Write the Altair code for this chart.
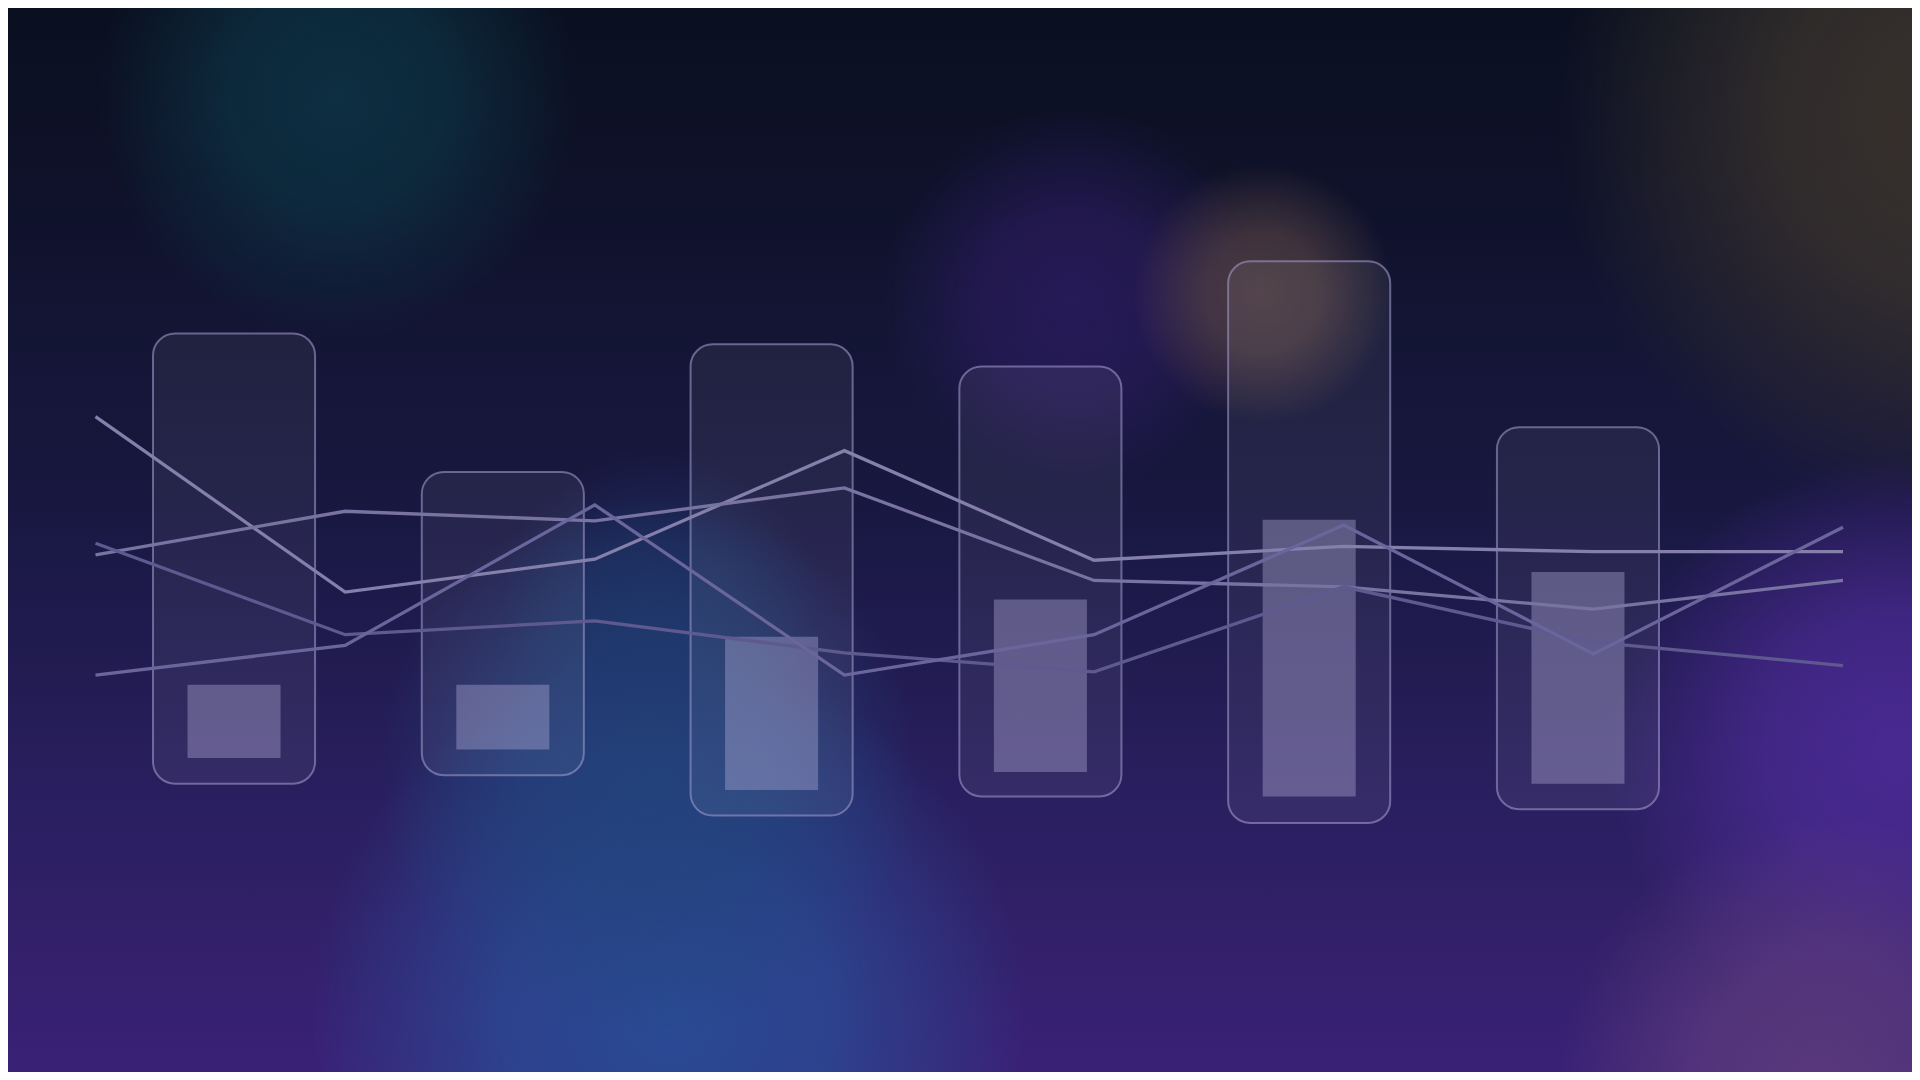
import altair as alt
import pandas as pd

W, H = 1904, 1064

# ---------------- data ----------------
groups = ["G1", "G2", "G3", "G4", "G5", "G6"]
range_high = [69.4, 56.4, 68.4, 66.3, 76.2, 60.6]
range_low = [27.1, 27.9, 24.1, 25.9, 23.4, 24.7]
value_high = [36.4, 36.4, 40.9, 44.4, 51.9, 47.0]
value_low = [29.5, 30.3, 26.5, 28.2, 25.9, 27.1]

steps = [0, 1, 2, 3, 4, 5, 6, 7]
series_names = ["A", "B", "C", "D"]
series_a = [61.6, 45.1, 48.2, 58.4, 48.1, 49.4, 48.9, 48.9]
series_b = [48.6, 52.7, 51.8, 54.9, 46.2, 45.6, 43.5, 46.2]
series_c = [49.7, 41.1, 42.4, 39.4, 37.6, 45.6, 40.4, 38.2]
series_d = [37.3, 40.1, 53.3, 37.3, 41.1, 51.4, 39.3, 51.2]

# ---------------- styles ----------------
line_colors = ["#847fab", "#7873a1", "#5e5a90", "#6a669c"]
base_stops = [
    (0.0, "#0a1020"), (0.15, "#0e1128"), (0.3, "#131534"), (0.45, "#18173f"),
    (0.55, "#1d1a4a"), (0.75, "#2a1f60"), (0.9, "#34206c"), (1.0, "#3a2176"),
]
# decorative glows: centre x, centre y, radius (chart px), rgb, alpha
glows = [
    (330, 90, 240, "13,50,68", 0.9),
    (1950, 110, 400, "58,51,45", 0.95),
    (1065, 290, 190, "52,30,112", 0.6),
    (1255, 285, 130, "104,78,72", 0.65),
    (660, 1010, 360, "42,74,148", 1.0),
    (640, 760, 270, "34,68,124", 0.85),
    (650, 600, 160, "30,60,110", 0.5),
    (1890, 740, 290, "76,42,150", 0.9),
    (1810, 1070, 260, "96,62,126", 0.8),
]

one = pd.DataFrame({"k": [0]})

base = alt.Chart(one).mark_rect(
    clip=True,
    fill={"gradient": "linear", "x1": 0, "y1": 0, "x2": 0, "y2": 1,
          "stops": [{"offset": o, "color": c} for o, c in base_stops]}
).encode(x=alt.value(0), x2=alt.value(W), y=alt.value(0), y2=alt.value(H))

layers = [base]
for cx, cy, r, rgb, a in glows:
    g = {"gradient": "radial", "x1": 0.5, "y1": 0.5, "r1": 0,
         "x2": 0.5, "y2": 0.5, "r2": 0.5,
         "stops": [
             {"offset": 0, "color": f"rgba({rgb},{a})"},
             {"offset": 0.45, "color": f"rgba({rgb},{a*0.8:.3f})"},
             {"offset": 0.8, "color": f"rgba({rgb},{a*0.3:.3f})"},
             {"offset": 1, "color": f"rgba({rgb},0)"},
         ]}
    layers.append(alt.Chart(one).mark_rect(fill=g, clip=True).encode(
        x=alt.value(cx - r), x2=alt.value(cx + r),
        y=alt.value(cy - r), y2=alt.value(cy + r)))

bars_df = pd.DataFrame({"group": groups, "rhi": range_high, "rlo": range_low,
                        "vhi": value_high, "vlo": value_low})
yscale = alt.Scale(domain=[0, 100])
xband = alt.X("group:N", sort=groups, axis=None,
              scale=alt.Scale(range=[145, 1651], paddingInner=0.397, paddingOuter=0))

boxes = alt.Chart(bars_df).mark_bar(
    cornerRadius=22, fill="#ffffff", fillOpacity=0.06,
    stroke="#9c97c8", strokeOpacity=0.6, strokeWidth=2
).encode(x=xband, y=alt.Y("rhi:Q", scale=yscale, axis=None), y2="rlo:Q")

inner = alt.Chart(bars_df).mark_bar(
    fill="#bdb7e0", fillOpacity=0.36, width={"band": 0.574}
).encode(x=xband, y=alt.Y("vhi:Q", scale=yscale, axis=None), y2="vlo:Q")

rows = []
for name, vals in zip(series_names, [series_a, series_b, series_c, series_d]):
    for s, v in zip(steps, vals):
        rows.append({"series": name, "step": s, "v": v})
lines_df = pd.DataFrame(rows)

lines = alt.Chart(lines_df).mark_line(strokeWidth=3.3).encode(
    x=alt.X("step:Q", axis=None, scale=alt.Scale(domain=[0, 7], range=[87.5, 1835])),
    y=alt.Y("v:Q", scale=yscale, axis=None),
    color=alt.Color("series:N", legend=None,
                    scale=alt.Scale(domain=series_names, range=line_colors)),
)

data_layer = alt.layer(boxes, inner, lines).resolve_scale(x="independent")

chart = alt.layer(*layers, data_layer).resolve_scale(x="independent").properties(
    width=W, height=H, padding=0, background="#0a1020",
    autosize=alt.AutoSizeParams(type="none"),
).configure_view(strokeWidth=0)

chart.save("out.html", embed_options={"renderer": "svg", "actions": False})
